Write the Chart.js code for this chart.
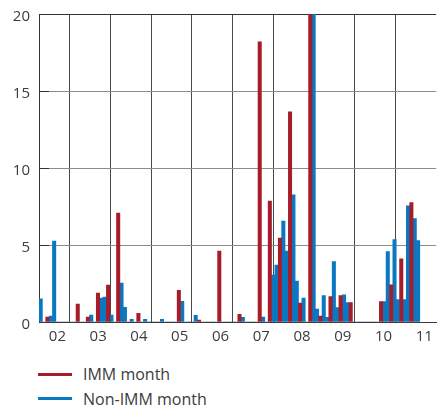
<!DOCTYPE html>
<html>
<head>
<meta charset="utf-8">
<script src="https://cdn.jsdelivr.net/npm/chart.js@4.4.1/dist/chart.umd.min.js"></script>
<style>
  body { margin: 0; background: #fff; }
  #wrap { position: relative; width: 441px; height: 407px; font-family: "Open Sans", sans-serif; color: #3c3c3c; }
  #legend { position: absolute; left: 38px; top: 362px; }
  .row { display: flex; align-items: center; height: 24.5px; font-size: 16px; }
  .swatch { width: 34px; height: 3px; margin-right: 11px; }
</style>
</head>
<body>
<div id="wrap">
  <canvas id="chart" width="441" height="350"></canvas>
  <div id="legend"></div>
</div>
<script>
// years on the axis
const firstYear = 2002;
const yearLabels = ['02', '03', '04', '05', '06', '07', '08', '09', '10', '11'];

// monthly values, Jan..Dec (2011 stops in May)
const y2002 = [1.5, 0, 0.32, 0.38, 5.25, 0, 0, 0, 0, 0, 0, 1.17];
const y2003 = [0, 0, 0.32, 0.45, 0, 1.88, 1.56, 1.62, 2.4, 0.45, 0, 7.08];
const y2004 = [2.53, 0.96, 0, 0.18, 0, 0.57, 0, 0.18, 0, 0, 0, 0];
const y2005 = [0.18, 0, 0, 0, 0, 2.06, 1.34, 0, 0, 0, 0.43, 0.12];
const y2006 = [0, 0, 0, 0, 0, 4.6, 0, 0, 0, 0, 0, 0.5];
const y2007 = [0.3, 0, 0, 0, 0, 18.2, 0.32, 0, 7.86, 3.05, 3.7, 5.45];
const y2008 = [6.56, 4.61, 13.64, 8.25, 2.66, 1.23, 1.56, 0, 25, 22, 0.84, 0.39];
const y2009 = [1.72, 0.3, 1.65, 3.92, 0.93, 1.71, 1.77, 1.26, 1.26, 0, 0, 0];
const y2010 = [0, 0, 0, 0, 0, 1.32, 1.32, 4.57, 2.42, 5.35, 1.45, 4.11];
const y2011 = [1.45, 7.55, 7.75, 6.71, 5.28];
const allYears = [y2002, y2003, y2004, y2005, y2006, y2007, y2008, y2009, y2010, y2011];

// March, June, September, December
const immMonths = [2, 5, 8, 11];

const red = '#a61c2b';
const blue = '#0a77c1';
const txt = '#3c3c3c';

// split months into the two series
const immPoints = [];
const otherPoints = [];
allYears.forEach((vals, yi) => {
    vals.forEach((v, m) => {
        const pt = { x: yi * 12 + m + 0.5, y: v };
        if (immMonths.includes(m)) immPoints.push(pt);
        else otherPoints.push(pt);
    });
});

const isWhole = v => Math.abs(v - Math.round(v)) < 1e-6;
const isHalf = v => Math.abs(v - Math.floor(v) - 0.5) < 1e-6;

const chart = new Chart(document.getElementById('chart'), {
    type: 'bar',
    data: {
        datasets: [
            { label: 'IMM month', data: immPoints, backgroundColor: red, xAxisID: 'months', barPercentage: 1, categoryPercentage: 1, clip: 0 },
            { label: 'Non-IMM month', data: otherPoints, backgroundColor: blue, xAxisID: 'months', barPercentage: 1, categoryPercentage: 1, clip: 0 }
        ]
    },
    options: {
        responsive: false,
        animation: false,
        layout: { padding: { top: 14, right: 0, bottom: 0, left: 0 } },
        plugins: { legend: { display: false }, tooltip: { enabled: false } },
        scales: {
            months: {
                type: 'linear', position: 'bottom', display: false, stacked: true,
                offset: false, min: 0, max: 117.87,
                ticks: { stepSize: 1 }
            },
            years: {
                type: 'linear', position: 'bottom', offset: false,
                min: firstYear, max: 2011.743,
                ticks: {
                    stepSize: 0.5, includeBounds: false, autoSkip: false, maxRotation: 0, padding: 6, labelOffset: -2,
                    color: txt, font: { family: 'Open Sans', size: 15 },
                    callback: v => isHalf(v) ? yearLabels[Math.floor(v) - firstYear] : ''
                },
                grid: {
                    drawTicks: false, lineWidth: 1,
                    color: c => (c.tick && isWhole(c.tick.value)) ? '#4a4a4a' : 'rgba(0,0,0,0)'
                },
                border: { color: '#3a3a3a' },
                afterFit: s => { s.height = 28; }
            },
            y: {
                position: 'left', stacked: true, min: 0, max: 20,
                ticks: {
                    stepSize: 5, padding: 19, labelOffset: 3,
                    color: txt, font: { family: 'Open Sans', size: 15 }
                },
                grid: {
                    color: c => (c.tick && c.tick.value === 20) ? '#333' : '#8c8c8c',
                    tickColor: '#333', tickLength: -10
                },
                border: { color: '#333' },
                afterFit: s => { s.width = 39; s.paddingTop = 0; s.paddingBottom = 0; }
            }
        }
    }
});

// legend as plain html under the canvas
const legend = document.getElementById('legend');
chart.data.datasets.forEach(ds => {
    const row = document.createElement('div');
    row.className = 'row';
    const sw = document.createElement('span');
    sw.className = 'swatch';
    sw.style.background = ds.backgroundColor;
    const label = document.createElement('span');
    label.textContent = ds.label;
    row.appendChild(sw);
    row.appendChild(label);
    legend.appendChild(row);
});
</script>
</body>
</html>
